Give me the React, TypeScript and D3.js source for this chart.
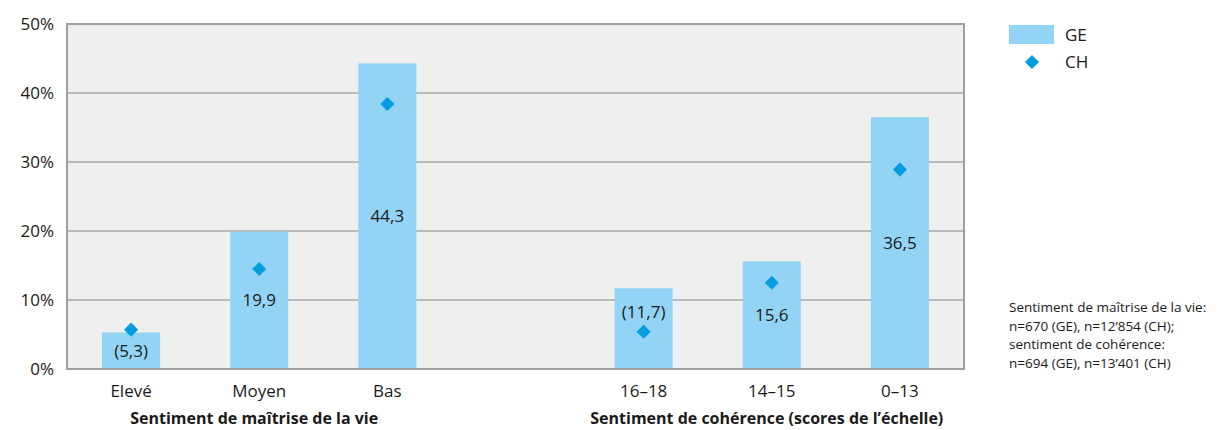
import React, { useEffect, useRef } from 'react';
import * as d3 from 'd3';

// categories: two groups separated by an empty slot
const categories = ['Elevé', 'Moyen', 'Bas', '', '16–18', '14–15', '0–13'];
const geValues = [5.3, 19.9, 44.3, null, 11.7, 15.6, 36.5];
const geLabels = ['(5,3)', '19,9', '44,3', '', '(11,7)', '15,6', '36,5'];
const chValues = [5.7, 14.5, 38.4, null, 5.4, 12.5, 28.9];
const yTicks = [0, 10, 20, 30, 40, 50];
const groupTitles = ['Sentiment de maîtrise de la vie', 'Sentiment de cohérence (scores de l’échelle)'];
const groupCenters = ['Moyen', '14–15'];
const legendItems = ['GE', 'CH'];
const noteLines = [
  'Sentiment de maîtrise de la vie:',
  'n=670 (GE), n=12’854 (CH);',
  'sentiment de cohérence:',
  'n=694 (GE), n=13’401 (CH)',
];

const FONT = 'Open Sans, sans-serif';
const BAR = '#93d3f5';
const DIAMOND = '#049ee0';

function App() {
  const ref = useRef(null);

  useEffect(() => {
    const svg = d3.select(ref.current);
    svg.selectAll('*').remove();

    const margins = { top: 24, left: 67, right: 260, bottom: 61 };
    const width = 1224 - margins.left - margins.right;
    const height = 430 - margins.top - margins.bottom;

    const x = d3.scaleBand()
      .domain(categories)
      .range([0, width])
      .paddingInner(0.547)
      .paddingOuter(0.2735);
    const y = d3.scaleLinear().domain([0, 50]).range([height, 0]);

    const g = svg.append('g').attr('transform', `translate(${margins.left}, ${margins.top})`);

    // plot background
    g.append('rect')
      .attr('width', width)
      .attr('height', height)
      .attr('fill', '#efefef');

    // gridlines
    g.selectAll('line.grid')
      .data(yTicks.slice(1, -1))
      .enter()
      .append('line')
      .attr('x1', 0)
      .attr('x2', width)
      .attr('y1', d => y(d))
      .attr('y2', d => y(d))
      .attr('stroke', '#a8a8a8')
      .attr('stroke-width', 1.5);

    const rows = categories.map((c, i) => ({ c, ge: geValues[i], label: geLabels[i], ch: chValues[i] }))
      .filter(d => d.ge !== null);

    // GE bars
    g.selectAll('rect.bar')
      .data(rows)
      .enter()
      .append('rect')
      .attr('x', d => x(d.c))
      .attr('y', d => y(d.ge))
      .attr('width', x.bandwidth())
      .attr('height', d => height - y(d.ge))
      .attr('fill', BAR);

    // value labels, centred in the bar, moved above the diamond if they collide
    g.selectAll('text.val')
      .data(rows)
      .enter()
      .append('text')
      .attr('x', d => x(d.c) + x.bandwidth() / 2)
      .attr('y', d => {
        const mid = (y(d.ge) + height) / 2;
        const dy = y(d.ch);
        return Math.abs(mid - dy) < 12 ? dy - 20 : mid;
      })
      .attr('dy', '0.35em')
      .attr('text-anchor', 'middle')
      .attr('font-family', FONT)
      .attr('font-size', 17)
      .attr('fill', '#1a1a1a')
      .text(d => d.label);

    // CH diamonds
    const diamond = d3.symbol(d3.symbolSquare, 100);
    g.selectAll('path.ch')
      .data(rows)
      .enter()
      .append('path')
      .attr('d', diamond)
      .attr('transform', d => `translate(${x(d.c) + x.bandwidth() / 2}, ${y(d.ch)}) rotate(45)`)
      .attr('fill', DIAMOND);

    // frame
    g.append('rect')
      .attr('width', width)
      .attr('height', height)
      .attr('fill', 'none')
      .attr('stroke', '#a0a0a0')
      .attr('stroke-width', 2);

    // y axis labels
    g.selectAll('text.ytick')
      .data(yTicks)
      .enter()
      .append('text')
      .attr('x', -13)
      .attr('y', d => y(d))
      .attr('dy', '0.35em')
      .attr('text-anchor', 'end')
      .attr('font-family', FONT)
      .attr('font-size', 17)
      .attr('fill', '#1a1a1a')
      .text(d => d + '%');

    // category labels
    g.selectAll('text.cat')
      .data(categories.filter(c => c !== ''))
      .enter()
      .append('text')
      .attr('x', d => x(d) + x.bandwidth() / 2)
      .attr('y', height + 28)
      .attr('text-anchor', 'middle')
      .attr('font-family', FONT)
      .attr('font-size', 17)
      .attr('fill', '#1a1a1a')
      .text(d => d);

    // group titles
    g.selectAll('text.title')
      .data(groupTitles)
      .enter()
      .append('text')
      .attr('x', (d, i) => x(groupCenters[i]) + x.bandwidth() / 2 - 5)
      .attr('y', height + 55)
      .attr('text-anchor', 'middle')
      .attr('font-family', FONT)
      .attr('font-size', 16)
      .attr('font-weight', 700)
      .attr('fill', '#1a1a1a')
      .text(d => d);

    // legend
    const legend = svg.append('g').attr('transform', 'translate(1009, 25)');
    legend.append('rect').attr('width', 45).attr('height', 19).attr('fill', BAR);
    legend.append('path')
      .attr('d', diamond)
      .attr('transform', 'translate(23, 37) rotate(45)')
      .attr('fill', DIAMOND);
    legend.selectAll('text')
      .data(legendItems)
      .enter()
      .append('text')
      .attr('x', 56)
      .attr('y', (d, i) => 10 + i * 27)
      .attr('dy', '0.35em')
      .attr('font-family', FONT)
      .attr('font-size', 17)
      .attr('fill', '#1a1a1a')
      .text(d => d);

    // sample sizes note
    svg.append('g')
      .selectAll('text')
      .data(noteLines)
      .enter()
      .append('text')
      .attr('x', 1009)
      .attr('y', (d, i) => 312 + i * 18.5)
      .attr('font-family', FONT)
      .attr('font-size', 13.5)
      .attr('fill', '#1a1a1a')
      .text(d => d);
  }, []);

  return (
    <svg ref={ref} width={1224} height={430}
      style={{ position: 'absolute', left: 0, top: 0, background: '#fff' }} />
  );
}

export default App;
